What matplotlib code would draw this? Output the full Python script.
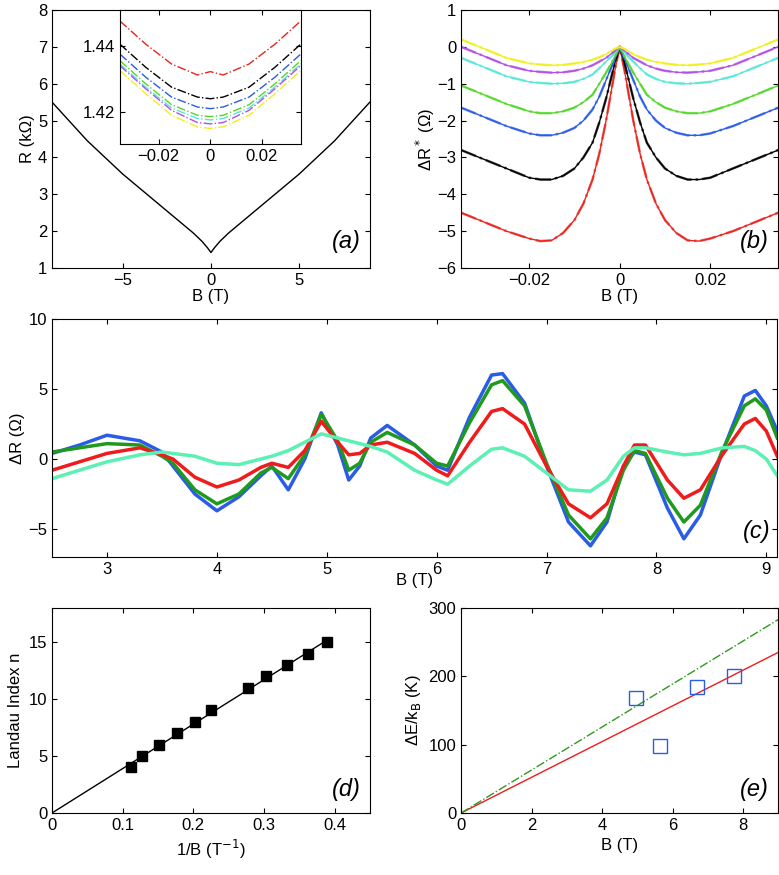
import numpy as np
import matplotlib
matplotlib.use('Agg')
from matplotlib import pyplot as plt

plt.rcParams['font.family'] = ['Liberation Sans', 'DejaVu Sans']
plt.rcParams['font.size'] = 12
plt.rcParams['xtick.direction'] = 'in'
plt.rcParams['ytick.direction'] = 'in'
plt.rcParams['xtick.top'] = True
plt.rcParams['ytick.right'] = True

# panel (a): R(B)
a_B = [-9, -7, -5, -3, -2, -1, -0.5, -0.2, 0, 0.2, 0.5, 1, 2, 3, 5, 7, 9]
a_R = [5.5, 4.45, 3.55, 2.75, 2.35, 1.95, 1.72, 1.55, 1.42, 1.55, 1.72, 1.95, 2.35, 2.75, 3.55, 4.45, 5.5]

# inset of (a)
ins_B = [-0.035, -0.025, -0.015, -0.005, 0, 0.005, 0.015, 0.025, 0.035]
ins_R = {
    'red':    [1.4475, 1.4405, 1.4345, 1.4312, 1.4322, 1.4312, 1.4345, 1.4405, 1.4475],
    'black':  [1.4405, 1.4335, 1.4275, 1.4245, 1.424, 1.4245, 1.4275, 1.4335, 1.4405],
    'blue':   [1.4375, 1.4305, 1.4245, 1.4215, 1.421, 1.4215, 1.4245, 1.4305, 1.4375],
    'green':  [1.4355, 1.4285, 1.4222, 1.419, 1.4186, 1.419, 1.4222, 1.4285, 1.4355],
    'cyan':   [1.4345, 1.4275, 1.4212, 1.418, 1.4176, 1.418, 1.4212, 1.4275, 1.4345],
    'purple': [1.434, 1.427, 1.4205, 1.4168, 1.4164, 1.4168, 1.4205, 1.427, 1.434],
    'yellow': [1.4325, 1.4255, 1.419, 1.4155, 1.415, 1.4155, 1.419, 1.4255, 1.4325],
}
ins_colors = {'red': '#e8251f', 'black': 'black', 'blue': '#2a5ce6', 'green': '#55d62b',
              'cyan': '#55e8d8', 'purple': '#b44ee8', 'yellow': '#f0f020'}

# panel (b): right half of the symmetric fits
b_B = [0, 0.0005, 0.001, 0.002, 0.003, 0.0045, 0.006, 0.008, 0.01, 0.0125, 0.015, 0.0175,
       0.02, 0.025, 0.03, 0.035]
b_dR = {
    'red':    [0, -0.3, -0.6, -1.3, -2.0, -2.9, -3.6, -4.25, -4.7, -5.05, -5.25, -5.27, -5.2, -5.0, -4.75, -4.5],
    'black':  [0, -0.2, -0.4, -0.9, -1.4, -2.05, -2.6, -3.0, -3.3, -3.5, -3.6, -3.6, -3.55, -3.3, -3.05, -2.8],
    'blue':   [0, -0.15, -0.3, -0.6, -0.9, -1.35, -1.7, -2.0, -2.2, -2.33, -2.4, -2.4, -2.35, -2.15, -1.9, -1.65],
    'green':  [0, -0.12, -0.25, -0.48, -0.7, -1.0, -1.3, -1.5, -1.65, -1.75, -1.8, -1.8, -1.75, -1.55, -1.3, -1.05],
    'cyan':   [0, -0.08, -0.15, -0.28, -0.4, -0.58, -0.75, -0.87, -0.95, -0.99, -1.0, -0.98, -0.95, -0.8, -0.55, -0.3],
    'purple': [0, -0.05, -0.1, -0.2, -0.3, -0.4, -0.5, -0.59, -0.65, -0.69, -0.7, -0.68, -0.65, -0.5, -0.25, 0.0],
    'yellow': [0, -0.03, -0.05, -0.12, -0.2, -0.28, -0.35, -0.41, -0.45, -0.49, -0.5, -0.48, -0.45, -0.3, -0.05, 0.2],
}

# panel (c)
c_B = [2.5, 2.75, 3.0, 3.3, 3.5, 3.6, 3.8, 4.0, 4.2, 4.4, 4.5, 4.65, 4.8, 4.95, 5.1, 5.2, 5.3, 5.4,
       5.55, 5.8, 6.0, 6.1, 6.3, 6.5, 6.6, 6.8, 7.0, 7.2, 7.4, 7.55, 7.7, 7.8, 7.9, 8.1, 8.25, 8.4,
       8.6, 8.8, 8.9, 9.0, 9.1]
c_blue = [0.4, 1.0, 1.7, 1.3, 0.5, -0.5, -2.5, -3.7, -2.7, -1.2, -0.5, -2.2, 0.0, 3.3, 1.0, -1.5,
          -0.5, 1.5, 2.4, 1.0, -0.5, -0.8, 3.0, 6.0, 6.1, 4.0, -0.5, -4.5, -6.2, -4.5, -0.5, 0.5,
          0.3, -3.5, -5.7, -4.0, 0.5, 4.5, 4.9, 3.8, 2.0]
c_green = [0.5, 0.8, 1.1, 1.0, 0.2, -0.3, -2.2, -3.2, -2.5, -1.0, -0.6, -1.4, 0.3, 3.2, 1.3, -0.8,
           -0.3, 1.2, 1.9, 1.0, -0.3, -0.5, 2.6, 5.3, 5.6, 3.8, -0.3, -4.0, -5.7, -4.2, -0.8, 0.6,
           0.4, -2.8, -4.5, -3.3, 0.6, 3.8, 4.3, 3.5, 1.5]
c_red = [-0.8, -0.2, 0.4, 0.8, 0.3, 0.0, -1.3, -2.0, -1.5, -0.6, -0.3, -0.6, 0.6, 2.7, 1.2, 0.3,
         0.4, 1.0, 1.2, 0.4, -0.8, -1.2, 1.2, 3.4, 3.6, 2.5, -0.5, -3.2, -4.2, -3.2, -0.5, 1.0,
         1.0, -1.5, -2.8, -2.2, 0.3, 2.5, 2.9, 2.0, 0.2]
c_cyan = [-1.4, -0.8, -0.2, 0.3, 0.5, 0.4, 0.2, -0.3, -0.4, 0.0, 0.2, 0.6, 1.2, 1.8, 1.5, 1.3,
          1.1, 0.9, 0.5, -0.8, -1.5, -1.8, -0.5, 0.7, 0.8, 0.2, -1.0, -2.2, -2.3, -1.5, 0.2, 0.8,
          0.8, 0.5, 0.3, 0.4, 0.8, 0.9, 0.6, 0.0, -1.2]

# panel (d)
d_invB = [0.112, 0.127, 0.152, 0.177, 0.202, 0.225, 0.278, 0.303, 0.333, 0.362, 0.39]
d_n = [4, 5, 6, 7, 8, 9, 11, 12, 13, 14, 15]
d_fit_x = [0, 0.39]
d_fit_y = [0, 15.2]

# panel (e)
e_B = [4.95, 5.65, 6.7, 7.75]
e_E = [168, 98, 185, 200]
e_line_x = [0, 9]
e_red_y = [0, 235]
e_green_y = [0, 283]

fig = plt.figure(figsize=(7.79, 8.75), dpi=100)
lab = dict(fontsize=17, style='italic')

# (a)
ax = fig.add_axes([0.0668, 0.6937, 0.408, 0.2949])
ax.plot(a_B, a_R, color='black', lw=1)
ax.set_xlim(-9, 9)
ax.set_ylim(1, 8)
ax.set_xticks([-5, 0, 5])
ax.set_xticklabels(['−5', '0', '5'])
ax.set_xlabel('B (T)', labelpad=1)
ax.set_ylabel('R (kΩ)', labelpad=2)
ax.text(0.97, 0.06, '(a)', transform=ax.transAxes, ha='right', va='bottom', **lab)

ins = fig.add_axes([0.154, 0.8354, 0.232, 0.153])
for k, v in ins_R.items():
    ins.plot(ins_B, v, color=ins_colors[k], ls='-.', lw=1)
ins.set_xlim(-0.035, 0.035)
ins.set_ylim(1.4103, 1.4508)
ins.set_xticks([-0.02, 0, 0.02])
ins.set_xticklabels(['−0.02', '0', '0.02'])
ins.set_yticks([1.42, 1.44])

# (b)
ax = fig.add_axes([0.592, 0.6937, 0.407, 0.2949])
bb = np.array(b_B)
for k, v in b_dR.items():
    x = np.concatenate([-bb[::-1], bb[1:]])
    y = np.concatenate([np.array(v)[::-1], np.array(v)[1:]])
    ax.plot(x, y, color=ins_colors[k], ls='-.', lw=1.8, alpha=0.7)
    ax.plot(x, y, color=ins_colors[k], lw=1)
ax.set_xlim(-0.035, 0.035)
ax.set_ylim(-6, 1)
ax.set_xticks([-0.02, 0, 0.02])
ax.set_xticklabels(['−0.02', '0', '0.02'])
ax.set_xlabel('B (T)', labelpad=1)
ax.set_ylabel('ΔR$^*$ (Ω)', labelpad=0)
ax.text(0.97, 0.06, '(b)', transform=ax.transAxes, ha='right', va='bottom', **lab)

# (c)
ax = fig.add_axes([0.0668, 0.3634, 0.931, 0.272])
ax.plot(c_B, c_blue, color='#2a5ce6', lw=2.5)
ax.plot(c_B, c_green, color='#1f9a1f', lw=2.5)
ax.plot(c_B, c_red, color='#ee1c1c', lw=2.5)
ax.plot(c_B, c_cyan, color='#5cf0b4', lw=2.5)
ax.set_xlim(2.5, 9.1)
ax.set_ylim(-7, 10)
ax.set_yticks([-5, 0, 5, 10])
ax.set_yticklabels(['−5', '0', '5', '10'])
ax.set_xlabel('B (T)', labelpad=-3)
ax.set_ylabel('ΔR (Ω)', labelpad=2)
ax.text(0.99, 0.06, '(c)', transform=ax.transAxes, ha='right', va='bottom', **lab)

# (d)
ax = fig.add_axes([0.0668, 0.0709, 0.408, 0.2343])
ax.plot(d_fit_x, d_fit_y, color='black', lw=1)
ax.plot(d_invB, d_n, 's', color='black', ms=7)
ax.set_xlim(0, 0.45)
ax.set_ylim(0, 18)
ax.set_xticks([0, 0.1, 0.2, 0.3, 0.4])
ax.set_xticklabels(['0', '0.1', '0.2', '0.3', '0.4'])
ax.set_yticks([0, 5, 10, 15])
ax.set_xlabel('1/B (T$^{-1}$)')
ax.set_ylabel('Landau Index n')
ax.text(0.97, 0.06, '(d)', transform=ax.transAxes, ha='right', va='bottom', **lab)

# (e)
ax = fig.add_axes([0.592, 0.0709, 0.407, 0.2343])
ax.plot(e_line_x, e_red_y, color='#ee1c1c', lw=1)
ax.plot(e_line_x, e_green_y, color='#2e9a1e', lw=1, ls='-.')
ax.plot(e_B, e_E, 's', mfc='none', mec='#2a5ce6', ms=10, mew=1)
ax.set_xlim(0, 9)
ax.set_ylim(0, 300)
ax.set_xticks([0, 2, 4, 6, 8])
ax.set_yticks([0, 100, 200, 300])
ax.set_xlabel('B (T)')
ax.set_ylabel('ΔE/k$_\\mathrm{B}$ (K)')
ax.text(0.97, 0.06, '(e)', transform=ax.transAxes, ha='right', va='bottom', **lab)

fig.savefig('out.png', dpi=100)
